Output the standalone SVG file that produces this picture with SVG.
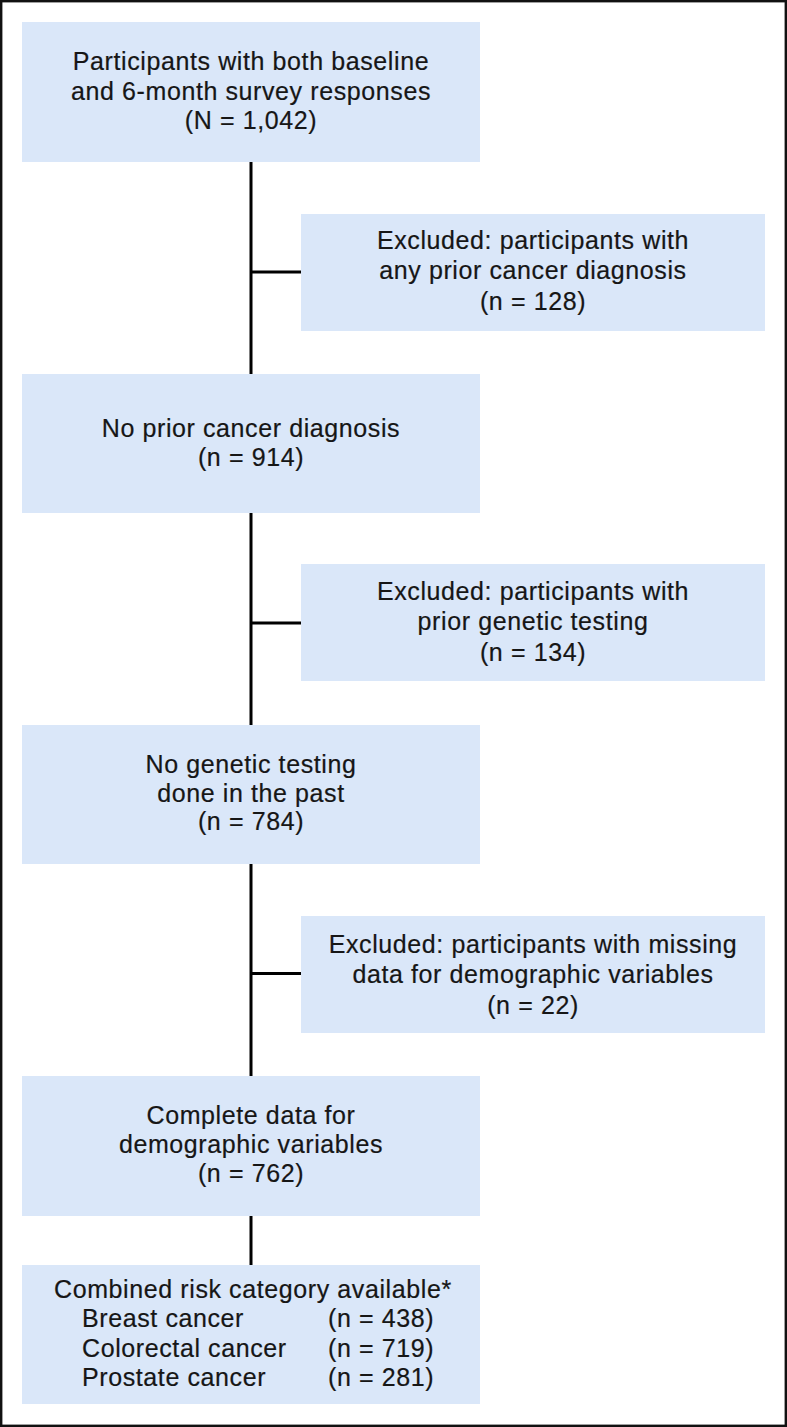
<svg xmlns="http://www.w3.org/2000/svg" width="787" height="1427" viewBox="0 0 787 1427">
<style>
.box{fill:#dae7f9}
.t{font-family:"Liberation Sans",Arial,sans-serif;font-size:25px;letter-spacing:0.6px;fill:#161616;text-anchor:middle;stroke:#161616;stroke-width:0.2px}
.l{text-anchor:start}
.c{stroke:#000;stroke-width:3;fill:none}
</style>
<rect x="1.2" y="1.2" width="784.6" height="1424.6" fill="#fff" stroke="#111" stroke-width="2.4"/>
<g id="connectors">
<line class="c" x1="251" y1="162" x2="251" y2="1265"/>
<line class="c" x1="251" y1="272" x2="301" y2="272"/>
<line class="c" x1="251" y1="623" x2="301" y2="623"/>
<line class="c" x1="251" y1="973.5" x2="301" y2="973.5"/>
</g>
<g id="n1">
<rect class="box" x="22" y="22" width="458" height="140"/>
<text class="t" x="251" y="70">Participants with both baseline</text>
<text class="t" x="251" y="100">and 6-month survey responses</text>
<text class="t" x="251" y="129">(N = 1,042)</text>
</g>
<g id="x1">
<rect class="box" x="301" y="214" width="464" height="117"/>
<text class="t" x="533" y="249">Excluded: participants with</text>
<text class="t" x="533" y="279">any prior cancer diagnosis</text>
<text class="t" x="533" y="310">(n = 128)</text>
</g>
<g id="n2">
<rect class="box" x="22" y="374" width="458" height="139"/>
<text class="t" x="251" y="437">No prior cancer diagnosis</text>
<text class="t" x="251" y="466">(n = 914)</text>
</g>
<g id="x2">
<rect class="box" x="301" y="564" width="464" height="117"/>
<text class="t" x="533" y="599.5">Excluded: participants with</text>
<text class="t" x="533" y="630">prior genetic testing</text>
<text class="t" x="533" y="661">(n = 134)</text>
</g>
<g id="n3">
<rect class="box" x="22" y="725" width="458" height="139"/>
<text class="t" x="251" y="773">No genetic testing</text>
<text class="t" x="251" y="802">done in the past</text>
<text class="t" x="251" y="830">(n = 784)</text>
</g>
<g id="x3">
<rect class="box" x="301" y="916" width="464" height="117"/>
<text class="t" x="533" y="952.5">Excluded: participants with missing</text>
<text class="t" x="533" y="983">data for demographic variables</text>
<text class="t" x="533" y="1013.5">(n = 22)</text>
</g>
<g id="n4">
<rect class="box" x="22" y="1076" width="458" height="140"/>
<text class="t" x="251" y="1124">Complete data for</text>
<text class="t" x="251" y="1153">demographic variables</text>
<text class="t" x="251" y="1182">(n = 762)</text>
</g>
<g id="n5">
<rect class="box" x="22" y="1265" width="458" height="139"/>
<text class="t l" x="54" y="1298">Combined risk category available*</text>
<text class="t l" x="82" y="1327">Breast cancer</text>
<text class="t l" x="328" y="1327">(n = 438)</text>
<text class="t l" x="82" y="1357">Colorectal cancer</text>
<text class="t l" x="328" y="1357">(n = 719)</text>
<text class="t l" x="82" y="1386">Prostate cancer</text>
<text class="t l" x="328" y="1386">(n = 281)</text>
</g>
</svg>
